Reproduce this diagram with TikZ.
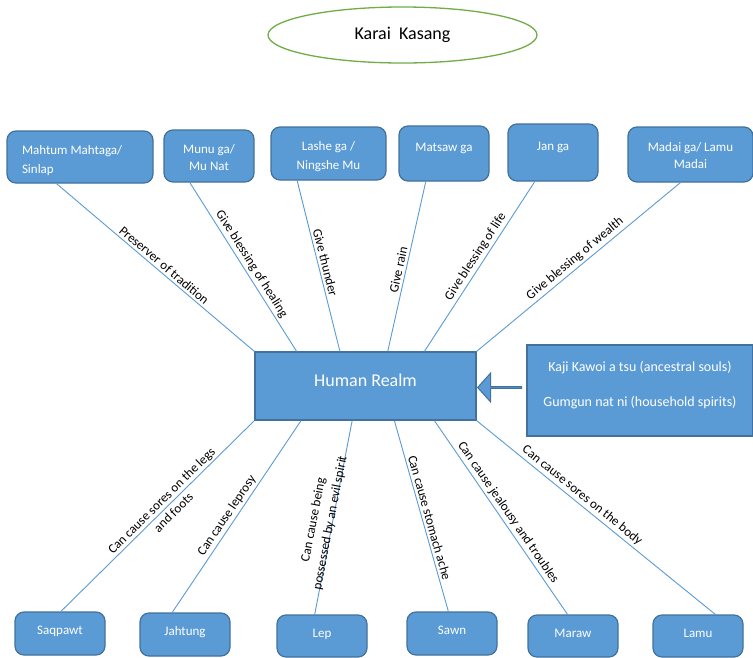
\documentclass[tikz,border=0pt]{standalone}
\usepackage{fontspec}
\setmainfont{Carlito}
\usetikzlibrary{calc,shapes.arrows,shapes.geometric}
\definecolor{boxblue}{HTML}{5B9BD5}
\definecolor{boxedge}{HTML}{41719C}
\definecolor{ovalgreen}{HTML}{70AD47}
% width, height, font size, baselineskip, first baseline from top, alignment, text
\newcommand\bxt[7]{\parbox[c][#2][t]{#1}{#6\fontsize{#3}{#4}\selectfont\rule{0pt}{#5}#7}}
\begin{document}
\begin{tikzpicture}[x=1pt,y=-1pt,
  rbox/.style={draw=boxedge, line width=1.2pt, fill=boxblue, rounded corners=9pt, text=white, inner sep=0pt},
  sbox/.style={draw=boxedge, line width=1.2pt, fill=boxblue, text=white, inner sep=0pt},
  oval/.style={draw=ovalgreen, line width=1.3pt, ellipse, minimum width=269pt, minimum height=56pt, inner sep=0pt, font=\fontsize{18}{22}\selectfont},
  conn/.style={draw=boxblue, line width=0.9pt},
  lab/.style={sloped, font=\fontsize{13}{17}\selectfont, text=black, inner sep=1pt},
  blockarrow/.style={single arrow, shape border rotate=180, draw=boxedge, fill=boxblue, line width=1pt, minimum height=44pt, minimum width=29pt, single arrow head extend=8pt, single arrow tip angle=96, inner sep=0pt}
]
\useasboundingbox (0,0) rectangle (753,657);
\fill[white] (0,0) rectangle (753,657);

\node[oval] (title) at (402.5,35) {Karai\ \ Kasang};

% top boxes
\node[rbox] (mahtum) at (80,157) {\bxt{146pt}{52pt}{13}{19pt}{23.3pt}{\raggedright\leftskip=15pt}{Mahtum Mahtaga/\\Sinlap}};
\node[rbox] (munu) at (209,156) {\bxt{90pt}{52pt}{13}{17pt}{23.3pt}{\centering}{Munu ga/\\Mu Nat}};
\node[rbox] (lashe) at (328.5,153.5) {\bxt{115pt}{53pt}{13}{19pt}{23.3pt}{\centering}{Lashe ga /\\Ningshe Mu}};
\node[rbox] (matsaw) at (444,153.5) {\bxt{90pt}{55pt}{13}{17pt}{25.3pt}{\centering}{Matsaw ga}};
\node[rbox] (jan) at (553,152.5) {\bxt{90pt}{57pt}{13}{17pt}{26.3pt}{\centering}{Jan ga}};
\node[rbox] (madai) at (690.5,154.5) {\bxt{125pt}{55pt}{13}{17pt}{24.3pt}{\centering}{Madai ga/ Lamu\\Madai}};

% centre and side boxes
\node[sbox] (hr) at (365.5,386) {\bxt{221pt}{68pt}{18}{22pt}{34pt}{\centering}{Human Realm}};
\node[sbox] (anc) at (640,390.5) {\bxt{226pt}{91pt}{14}{35pt}{26.6pt}{\centering}{Kaji Kawoi a tsu (ancestral souls)\\Gumgun nat ni (household spirits)}};
\node[blockarrow] (arr) at (500,387.5) {};

% bottom boxes
\node[rbox] (saq) at (60,633.5) {\bxt{90pt}{43pt}{13}{17pt}{22.3pt}{\centering}{Saqpawt}};
\node[rbox] (jah) at (185,634.5) {\bxt{90pt}{43pt}{13}{17pt}{22.3pt}{\centering}{Jahtung}};
\node[rbox] (lep) at (322,636) {\bxt{90pt}{42pt}{13}{17pt}{22.3pt}{\centering}{Lep}};
\node[rbox] (sawn) at (452,633.5) {\bxt{90pt}{43pt}{13}{17pt}{22.3pt}{\centering}{Sawn}};
\node[rbox] (maraw) at (573,636) {\bxt{90pt}{42pt}{13}{17pt}{22.3pt}{\centering}{Maraw}};
\node[rbox] (lamu) at (698,636) {\bxt{90pt}{42pt}{13}{17pt}{22.3pt}{\centering}{Lamu}};

% upper connectors
\draw[conn] ($(mahtum.south west)!0.34!(mahtum.south east)$) -- (hr.north west)
  node[lab,pos=0.52,above=1.5pt] {Preserver of tradition};
\draw[conn] ($(munu.south west)!0.29!(munu.south east)$) -- ($(hr.north west)!0.19!(hr.north east)$)
  node[lab,pos=0.51,above=1.5pt] {Give blessing of healing};
\draw[conn] ($(lashe.south west)!0.23!(lashe.south east)$) -- ($(hr.north west)!0.385!(hr.north east)$)
  node[lab,pos=0.49,above=1.5pt] {Give thunder};
\draw[conn] ($(matsaw.south west)!0.3!(matsaw.south east)$) -- ($(hr.north west)!0.6!(hr.north east)$)
  node[lab,pos=0.53,above=1.5pt] {Give rain};
\draw[conn] ($(jan.south west)!0.3!(jan.south east)$) -- ($(hr.north west)!0.765!(hr.north east)$)
  node[lab,pos=0.47,above=1.5pt] {Give blessing of life};
\draw[conn] ($(madai.south west)!0.42!(madai.south east)$) -- (hr.north east)
  node[lab,pos=0.49,above=1.5pt] {Give blessing of wealth};

% lower connectors
\draw[conn] (hr.south west) -- ($(saq.north west)!0.51!(saq.north east)$)
  node[lab,pos=0.45,align=center] {Can cause sores on the legs\\and foots};
\draw[conn] ($(hr.south west)!0.21!(hr.south east)$) -- ($(jah.north west)!0.36!(jah.north east)$)
  node[lab,pos=0.52,above=1.5pt] {Can cause leprosy};
\draw[conn] ($(hr.south west)!0.44!(hr.south east)$) -- ($(lep.north west)!0.42!(lep.north east)$)
  node[lab,pos=0.53,above=-5pt,align=center] {Can cause being\\possessed by an evil spirit};
\draw[conn] ($(hr.south west)!0.63!(hr.south east)$) -- ($(sawn.north west)!0.46!(sawn.north east)$)
  node[lab,pos=0.52,above=1.5pt] {Can cause stomach ache};
\draw[conn] ($(hr.south west)!0.81!(hr.south east)$) -- ($(maraw.north west)!0.44!(maraw.north east)$)
  node[lab,pos=0.5,above=1.5pt] {Can cause jealousy and troubles};
\draw[conn] (hr.south east) -- ($(lamu.north west)!0.69!(lamu.north east)$)
  node[lab,pos=0.42,above=1.5pt] {Can cause sores on the body};
\end{tikzpicture}
\end{document}
